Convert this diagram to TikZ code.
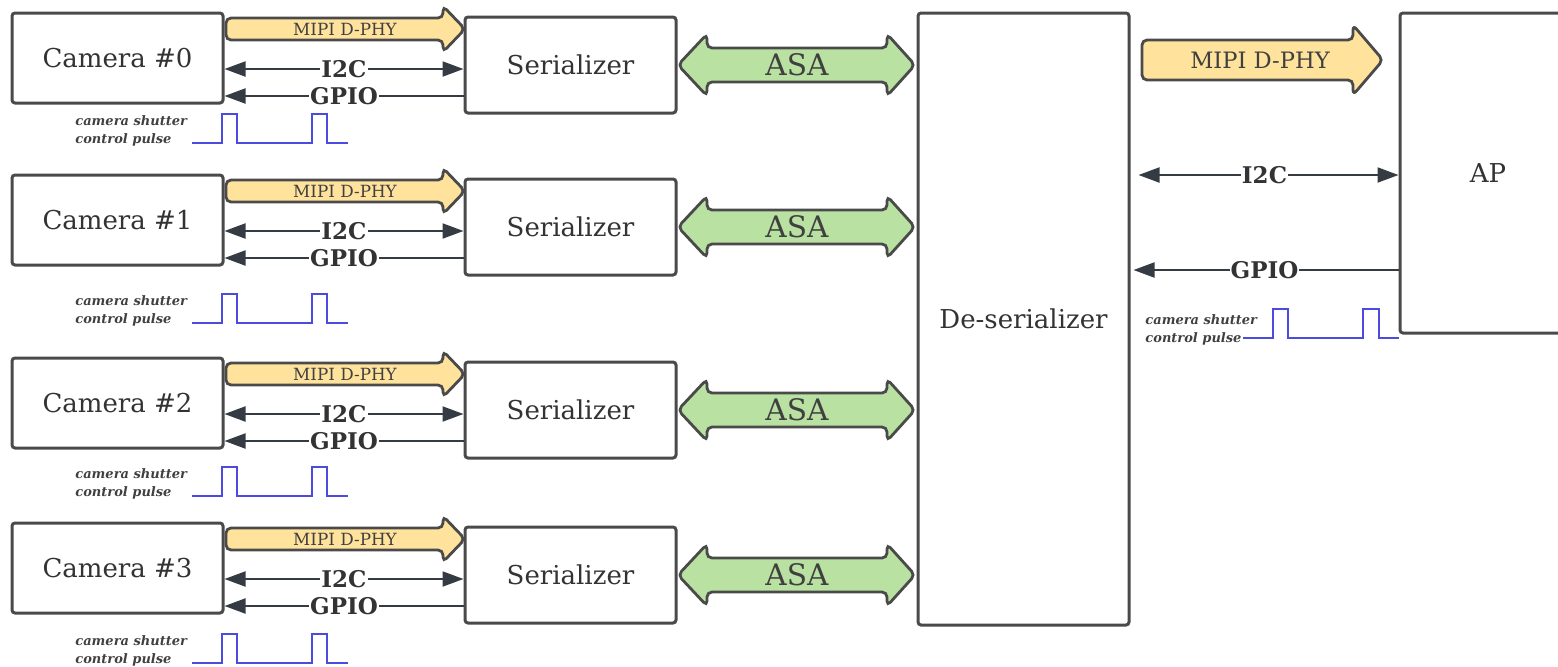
\documentclass[tikz,border=0pt]{standalone}
\usepackage{fontspec}
\setmainfont{DejaVu Serif}
\usetikzlibrary{arrows.meta}
\definecolor{boxline}{HTML}{4A4A4A}
\definecolor{wire}{HTML}{353B42}
\definecolor{mipifill}{HTML}{FFE29B}
\definecolor{asafill}{HTML}{B9E1A2}
\definecolor{pulseblue}{HTML}{4B4BE0}
\newcommand{\blkfont}{\fontsize{13}{15}\selectfont}
\newcommand{\wirefont}{\bfseries\fontsize{11.5}{13}\selectfont}
\newcommand{\shutfont}{\bfseries\itshape\fontsize{6.5}{9}\selectfont}

\begin{document}
\begin{tikzpicture}[x=0.5pt, y=-0.5pt, >={Triangle[length=10.5pt,width=7.5pt]},
		blk/.style={draw=boxline, line width=1.5pt, rounded corners=1.5pt, fill=white, minimum width=105.5pt, font=\blkfont, text=black!80},
		fat/.style={draw=boxline, line width=1.4pt, rounded corners=2.5pt},
		wirel/.style={draw=wire, line width=1pt},
		wlbl/.style={fill=white, inner sep=0.5pt, font=\wirefont, text=black!80},
		pulse/.style={draw=pulseblue, line width=0.8pt},
		shuttxt/.style={anchor=west, align=left, inner sep=0pt, font=\shutfont, text=black!75}]
		\clip (0,0) rectangle (1558,666);
		
		% cameras and serializers
		\foreach \n/\t/\p in {0/13/143, 1/175/323, 2/358/496, 3/523/663}{
			\node[blk, minimum height=45pt] (cam\n) at (117.5,\t+45) {Camera \#\n};
			\node[blk, minimum height=48pt] (ser\n) at (570.5,\t+52) {Serializer};
			\draw[fat, fill=mipifill] (226,\t+5) -- (443,\t+5) -- (443,\t-7) -- (465,\t+16) -- (443,\t+39) -- (443,\t+27) -- (226,\t+27) -- cycle;
			\node[font=\fontsize{8.4}{10}\selectfont, text=black!75] (mipi\n) at (345,\t+16) {MIPI D-PHY};
			\draw[wirel, <->] (cam\n.east |- 0,\t+56) -- node[wlbl] {I2C} (ser\n.west |- 0,\t+56);
			\draw[wirel, ->] (ser\n.west |- 0,\t+83) -- node[wlbl] {GPIO} (cam\n.east |- 0,\t+83);
			\draw[fat, fill=asafill] (678,\t+52) -- (707,\t+21) -- (707,\t+35) -- (887,\t+35) -- (887,\t+21) -- (915,\t+52) -- (887,\t+83) -- (887,\t+69) -- (707,\t+69) -- (707,\t+83) -- cycle;
			\node[font=\fontsize{14.8}{17}\selectfont, text=black!75] (asa\n) at (797,\t+52) {ASA};
			\node[shuttxt] (shut\n) at (75,\p-12) {camera shutter\\control pulse};
			\draw[pulse] (192,\p) -- (222,\p) -- ++(0,-29) -- ++(15,0) -- ++(0,29) -- (312,\p) -- ++(0,-29) -- ++(15,0) -- ++(0,29) -- (348,\p);
		}
		
		% de-serializer and AP
		\node[blk, minimum height=306pt] (des) at (1023.5,319) {De-serializer};
		\node[blk, minimum width=88pt, minimum height=160pt] (ap) at (1488,173) {AP};
		\draw[fat, fill=mipifill] (1142,40) -- (1353,40) -- (1353,25) -- (1383,60) -- (1353,95) -- (1353,80) -- (1142,80) -- cycle;
		\node[font=\fontsize{11.3}{13}\selectfont, text=black!75] (mipiap) at (1260,60) {MIPI D-PHY};
		\draw[wirel, <->, shorten <=4pt] (des.east |- 0,175) -- node[wlbl] {I2C} (ap.west |- 0,175);
		\draw[wirel, ->, shorten >=1.5pt] (ap.west |- 0,270) -- node[wlbl] {GPIO} (des.east |- 0,270);
		\node[shuttxt] (shutap) at (1145,330) {camera shutter\\control pulse};
		\draw[pulse] (1243,338) -- (1273,338) -- ++(0,-29) -- ++(15,0) -- ++(0,29) -- (1363,338) -- ++(0,-29) -- ++(16,0) -- ++(0,29) -- (ap.west |- 0,338);
		
	\end{tikzpicture}
\end{document}
